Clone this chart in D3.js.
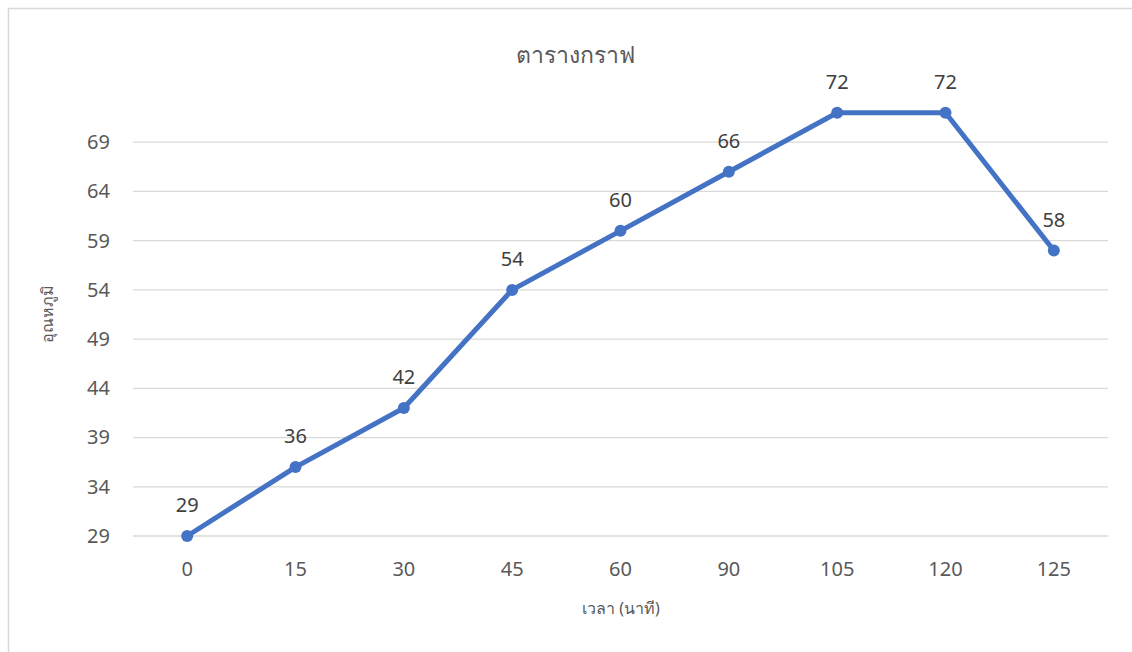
<!DOCTYPE html>
<html>
<head>
<meta charset="utf-8">
<script src="https://cdn.jsdelivr.net/npm/d3@7"></script>
<style>
  body { margin: 0; background: #fff; }
  text { font-family: "Noto Sans", "Open Sans", sans-serif; }
</style>
</head>
<body>
<script>
// chart data
var times = ["0", "15", "30", "45", "60", "90", "105", "120", "125"];
var temps = [29, 36, 42, 54, 60, 66, 72, 72, 58];
var yTicks = [29, 34, 39, 44, 49, 54, 59, 64, 69];

var W = 1132, H = 652;
var plot = {left: 133, right: 1108, top: 93, bottom: 536};

var svg = d3.select("body").append("svg")
    .attr("width", W)
    .attr("height", H);

// chart area border
svg.append("rect")
    .attr("x", 8.5).attr("y", 8.5)
    .attr("width", W + 10).attr("height", H + 10)
    .attr("fill", "#fff")
    .attr("stroke", "#d9d9d9")
    .attr("stroke-width", 1.5);

var x = d3.scaleBand()
    .domain(times)
    .range([plot.left, plot.right]);

var y = d3.scaleLinear()
    .domain([29, 74])
    .range([plot.bottom, plot.top]);

// gridlines
svg.append("g")
    .selectAll("line")
    .data(yTicks)
    .join("line")
    .attr("x1", plot.left).attr("x2", plot.right)
    .attr("y1", function(d) { return y(d); })
    .attr("y2", function(d) { return y(d); })
    .attr("stroke", "#d9d9d9")
    .attr("stroke-width", 1.3);

// y axis labels
var yAxis = svg.append("g")
    .attr("transform", "translate(" + plot.left + ",0)")
    .call(d3.axisLeft(y).tickValues(yTicks).tickSize(0).tickPadding(23));
yAxis.select(".domain").remove();
yAxis.selectAll("text")
    .attr("fill", "#595959")
    .style("font-size", "20px");

// x axis labels
var xAxis = svg.append("g")
    .attr("transform", "translate(0," + plot.bottom + ")")
    .call(d3.axisBottom(x).tickSize(0).tickPadding(26));
xAxis.select(".domain").remove();
xAxis.selectAll("text")
    .attr("fill", "#595959")
    .style("font-size", "20px");

var line = d3.line()
    .x(function(d, i) { return x(times[i]) + x.bandwidth() / 2; })
    .y(function(d) { return y(d); });

svg.append("path")
    .datum(temps)
    .attr("fill", "none")
    .attr("stroke", "#4472C4")
    .attr("stroke-width", 5)
    .attr("stroke-linejoin", "round")
    .attr("d", line);

svg.append("g")
    .selectAll("circle")
    .data(temps)
    .join("circle")
    .attr("cx", function(d, i) { return x(times[i]) + x.bandwidth() / 2; })
    .attr("cy", function(d) { return y(d); })
    .attr("r", 6)
    .attr("fill", "#4472C4");

// data labels
svg.append("g")
    .selectAll("text")
    .data(temps)
    .join("text")
    .attr("x", function(d, i) { return x(times[i]) + x.bandwidth() / 2; })
    .attr("y", function(d) { return y(d) - 24; })
    .attr("text-anchor", "middle")
    .attr("fill", "#404040")
    .style("font-size", "20px")
    .text(function(d) { return d; });

// title
svg.append("text")
    .attr("x", 575).attr("y", 63)
    .attr("text-anchor", "middle")
    .attr("fill", "#595959")
    .style("font-size", "23px")
    .style("font-weight", "300")
    .text("ตารางกราฟ");

// axis titles
svg.append("text")
    .attr("x", 621).attr("y", 614)
    .attr("text-anchor", "middle")
    .attr("fill", "#595959")
    .style("font-size", "16px")
    .text("เวลา (นาที)");

svg.append("text")
    .attr("transform", "translate(53,314) rotate(-90)")
    .attr("text-anchor", "middle")
    .attr("fill", "#595959")
    .style("font-size", "16px")
    .text("อุณหภูมิ");
</script>
</body>
</html>
